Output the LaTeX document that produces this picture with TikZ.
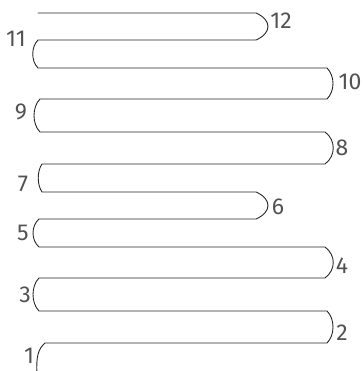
\documentclass[tikz,border=0pt]{standalone}
\usepackage{fontspec}
\setmainfont{Fira Sans}
\usepackage{tikz}
\usetikzlibrary{positioning}

\begin{document}
\begin{tikzpicture}[
  x=1pt, y=-1pt,
  font=\fontsize{23}{26}\selectfont,
  track/.style={draw=black!85, line width=0.9pt, line join=round, line cap=round},
  turnlabel/.style={text=black!68, inner sep=0pt},
]
  % Frame: 363 x 371, y runs downwards
  \useasboundingbox (0,0) rectangle (363,371);
  \clip (0,0) rectangle (363,371);

  % The serpentine track, top to bottom
  \draw[track] (38,13) -- (256,13)
    .. controls (272,20) and (272,33) .. (256,40) -- (38,40)
    .. controls (31,47) and (31,61) .. (38,68) -- (327,68)
    .. controls (335,76) and (335,91) .. (327,99) -- (40,99)
    .. controls (32,107) and (32,124) .. (40,132) -- (325,132)
    .. controls (336,140) and (336,156) .. (325,164) -- (42,164)
    .. controls (37,171) and (37,185) .. (42,192) -- (256,192)
    .. controls (272,199) and (272,212) .. (256,219) -- (39,219)
    .. controls (31,226) and (31,240) .. (39,247) -- (325,247)
    .. controls (336,255) and (336,270) .. (325,278) -- (39,278)
    .. controls (31,286) and (31,303) .. (39,311) -- (327,311)
    .. controls (335,319) and (335,335) .. (327,343) -- (45,343)
    .. controls (38,349) and (36,357) .. (37,374);

  % Turn numbers
  \node[turnlabel] (t1)  at (29,356) {1};
  \node[turnlabel] (t2)  at (342,333) {2};
  \node[turnlabel] (t3)  at (25,295) {3};
  \node[turnlabel] (t4)  at (342,266) {4};
  \node[turnlabel] (t5)  at (23,233) {5};
  \node[turnlabel] (t6)  at (278,207) {6};
  \node[turnlabel] (t7)  at (23,184) {7};
  \node[turnlabel] (t8)  at (342,148) {8};
  \node[turnlabel] (t9)  at (21,112) {9};
  \node[turnlabel] (t10) at (350,82) {10};
  \node[turnlabel] (t11) at (16,39) {11};
  \node[turnlabel] (t12) at (281,21) {12};

\end{tikzpicture}
\end{document}
